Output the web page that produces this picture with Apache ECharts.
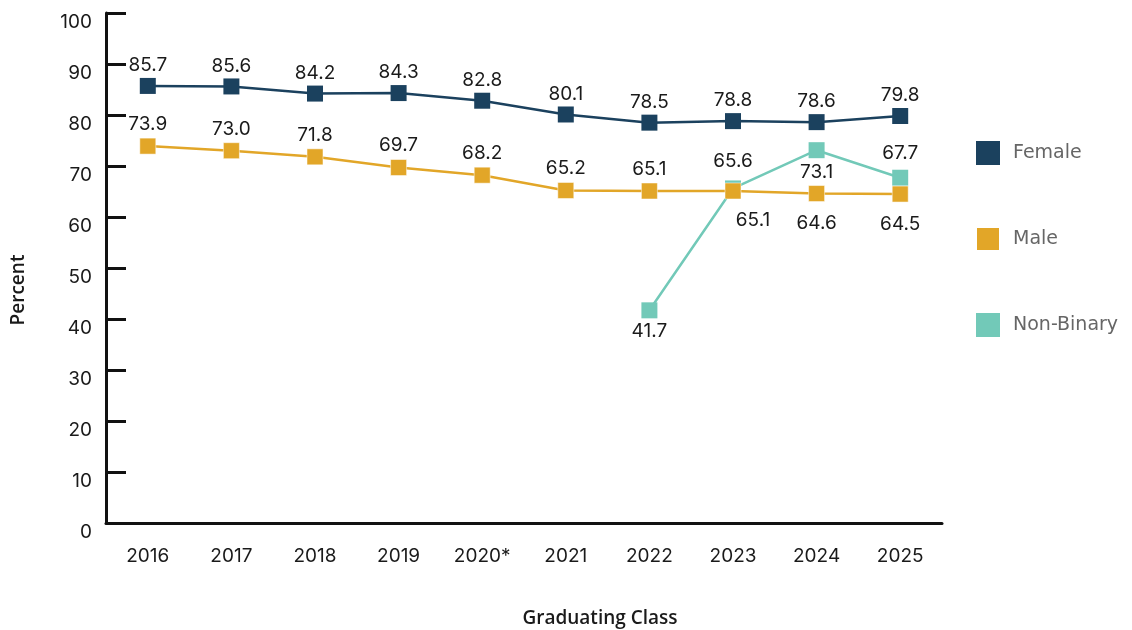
<!DOCTYPE html>
<html><head><meta charset="utf-8">
<script src="https://cdn.jsdelivr.net/npm/echarts@6/dist/echarts.min.js"></script>
<style>html,body{margin:0;padding:0;background:#fff}#c{width:1132px;height:630px}</style>
</head><body><div id="c"></div>
<script>
const categories = ['2016','2017','2018','2019','2020*','2021','2022','2023','2024','2025'];
const female = [85.7, 85.6, 84.2, 84.3, 82.8, 80.1, 78.5, 78.8, 78.6, 79.8];
const male = [73.9, 73.0, 71.8, 69.7, 68.2, 65.2, 65.1, 65.1, 64.6, 64.5];
const nonBinary = [null, null, null, null, null, null, 41.7, 65.6, 73.1, 67.7];
const yTicks = [0, 10, 20, 30, 40, 50, 60, 70, 80, 90, 100];

const FONT = 'Inter';
const labelStyle = {show: true, fontFamily: FONT, fontSize: 19, color: '#1a1a1a', formatter: p => p.value == null ? '' : p.value.toFixed(1)};

const maleData = male.map((v, i) => i >= 7
  ? {value: v, label: {position: 'bottom', distance: 12, offset: [i === 7 ? 20 : 0, 0]}}
  : v);
const nbPos = ['bottom', 'top', 'bottom', 'top'];
const nbDist = [3, 10, 5, 7];
const nbData = nonBinary.map((v, i) => v == null ? v
  : {value: v, label: {position: nbPos[i - 6], distance: nbDist[i - 6]}});

const chart = echarts.init(document.getElementById('c'));
chart.setOption({
  animation: false,
  backgroundColor: '#fff',
  grid: {left: 106, right: 190, top: 13, bottom: 107, containLabel: false, outerBoundsMode: 'none'},
  legend: {
    orient: 'vertical', left: 975, top: 141, padding: 0, itemWidth: 24, itemHeight: 24, itemGap: 61,
    icon: 'rect',
    textStyle: {fontFamily: 'DejaVu Sans', fontSize: 19, color: '#666', padding: [0, 0, 0, 8]},
    data: ['Female', 'Male', 'Non-Binary']
  },
  xAxis: {
    type: 'category', data: categories, boundaryGap: true,
    name: 'Graduating Class', nameLocation: 'middle', nameGap: 86,
    nameTextStyle: {fontFamily: 'Open Sans', fontSize: 19, fontWeight: 600, color: '#1a1a1a', padding: [0, 0, 0, 152]},
    axisLine: {lineStyle: {color: '#111', width: 3}},
    axisTick: {inside: true, length: 10, lineStyle: {color: '#111', width: 3}},
    axisLabel: {fontFamily: FONT, fontSize: 19, color: '#1a1a1a', margin: 24, verticalAlign: 'top'}
  },
  yAxis: {
    type: 'value', min: 0, max: 100, interval: 10,
    name: 'Percent', nameLocation: 'middle', nameGap: 78, nameRotate: 90,
    nameTextStyle: {fontFamily: 'Open Sans', fontSize: 19, fontWeight: 600, color: '#1a1a1a', padding: [0, 44, 0, 0]},
    axisLine: {show: true, lineStyle: {color: '#111', width: 3}},
    axisTick: {show: true, inside: true, length: 20, lineStyle: {color: '#111', width: 3}},
    splitLine: {show: false},
    axisLabel: {fontFamily: FONT, fontSize: 19, color: '#1a1a1a', margin: 14, verticalAlign: 'top',
      formatter: v => yTicks.includes(v) ? String(v) : ''}
  },
  series: [
    {name: 'Female', type: 'line', data: female, z: 4, color: '#1b415e',
     symbol: 'rect', symbolSize: 16, lineStyle: {width: 2.5},
     label: Object.assign({}, labelStyle, {position: 'top', distance: 3})},
    {name: 'Male', type: 'line', data: maleData, z: 3, color: '#e2a628',
     symbol: 'rect', symbolSize: 16, lineStyle: {width: 2.5},
     itemStyle: {borderColor: '#fff', borderWidth: 0.5},
     label: Object.assign({}, labelStyle, {position: 'top', distance: 4})},
    {name: 'Non-Binary', type: 'line', data: nbData, z: 2, color: '#72c9b8',
     symbol: 'rect', symbolSize: 16, lineStyle: {width: 2.5},
     label: Object.assign({}, labelStyle, {position: 'top', distance: 7})}
  ]
});
</script></body></html>
